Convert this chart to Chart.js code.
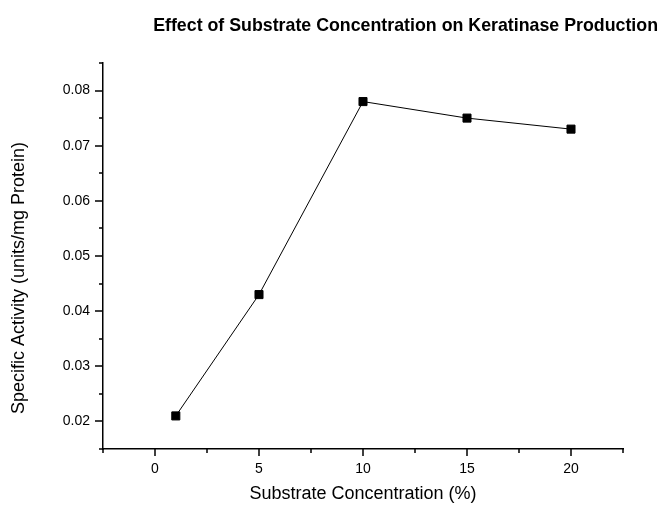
<!DOCTYPE html>
<html>
<head>
<meta charset="utf-8">
<script src="https://cdn.jsdelivr.net/npm/chart.js@4"></script>
<style>
  body { margin: 0; background: #fff; }
  #wrap { width: 667px; height: 506px; position: relative; }
</style>
</head>
<body>
<div id="wrap"><canvas id="grafica"></canvas></div>
<script>
// datos
const concentraciones = [1, 5, 10, 15, 20];
const actividad = [0.021, 0.043, 0.078, 0.075, 0.073];

// ticks mayores y menores (medio paso)
const xTicks = [0, 5, 10, 15, 20];
const yTicks = [0.02, 0.03, 0.04, 0.05, 0.06, 0.07, 0.08];
const xMenores = [-2.5, 2.5, 7.5, 12.5, 17.5, 22.5];
const yMenores = [0.015, 0.025, 0.035, 0.045, 0.055, 0.065, 0.075, 0.085];

const tituloY = 'Specific Activity (units/mg Protein)';

// plugin: marcas de ticks (mayores y menores) y titulo del eje Y
const extrasEjes = {
    id: 'extrasEjes',
    afterDraw(chart) {
        const ctx = chart.ctx;
        const sx = chart.scales.x;
        const sy = chart.scales.y;
        const area = chart.chartArea;
        const marcaX = (v, largo) => {
            const px = Math.round(sx.getPixelForValue(v));
            ctx.moveTo(px, area.bottom);
            ctx.lineTo(px, area.bottom + largo);
        };
        const marcaY = (v, largo) => {
            const py = Math.round(sy.getPixelForValue(v));
            ctx.moveTo(area.left, py);
            ctx.lineTo(area.left - largo, py);
        };
        ctx.save();
        ctx.lineWidth = 1.5;
        ctx.strokeStyle = '#000';
        ctx.beginPath();
        xTicks.forEach(v => marcaX(v, 7));
        xMenores.forEach(v => marcaX(v, 4));
        yTicks.forEach(v => marcaY(v, 8));
        yMenores.forEach(v => marcaY(v, 4));
        ctx.stroke();

        ctx.translate(19.5, 278);
        ctx.rotate(-Math.PI / 2);
        ctx.fillStyle = '#000';
        ctx.font = '18px Arial, "Liberation Sans", sans-serif';
        ctx.textAlign = 'center';
        ctx.textBaseline = 'middle';
        ctx.fillText(tituloY, 0, 0);
        ctx.restore();
    }
};

const fuente = 'Arial, "Liberation Sans", sans-serif';

new Chart(document.getElementById('grafica').getContext('2d'), {
    type: 'line',
    data: {
        datasets: [{
            data: concentraciones.map((c, i) => ({ x: c, y: actividad[i] })),
            borderColor: '#000',
            borderWidth: 1,
            backgroundColor: '#000',
            pointStyle: 'rect',
            pointRadius: 5.7,
            pointBorderWidth: 1,
            pointBackgroundColor: '#000',
            pointBorderColor: '#000',
            tension: 0
        }]
    },
    options: {
        responsive: true,
        maintainAspectRatio: false,
        animation: false,
        layout: { padding: { top: 15.7, left: 0, right: 9, bottom: 0 } },
        plugins: {
            legend: { display: false },
            tooltip: { enabled: false },
            title: {
                display: true,
                text: 'Effect of Substrate Concentration on Keratinase Production',
                align: 'end',
                color: '#000',
                font: { family: fuente, size: 17.8, weight: 'bold' },
                padding: { top: 0, bottom: 25.9 }
            }
        },
        scales: {
            x: {
                type: 'linear',
                min: -2.5,
                max: 22.5,
                afterBuildTicks: s => { s.ticks = xTicks.map(v => ({ value: v })); },
                ticks: {
                    color: '#000',
                    padding: 5,
                    font: { family: fuente, size: 14 }
                },
                grid: { display: false, drawOnChartArea: false, tickLength: 7 },
                border: { display: true, color: '#000', width: 1.5 },
                title: {
                    display: true,
                    text: 'Substrate Concentration (%)',
                    color: '#000',
                    font: { family: fuente, size: 18 },
                    padding: { top: 0, bottom: 1 }
                },
                afterFit: s => { s.height = 57; }
            },
            y: {
                min: 0.015,
                max: 0.085,
                afterBuildTicks: s => { s.ticks = yTicks.map(v => ({ value: v })); },
                ticks: {
                    color: '#000',
                    padding: 5,
                    font: { family: fuente, size: 14 },
                    callback: v => v.toFixed(2)
                },
                grid: { display: false, drawOnChartArea: false, tickLength: 8 },
                border: { display: true, color: '#000', width: 1.5 },
                afterFit: s => { s.width = 103; }
            },
            derecha: {
                type: 'linear',
                position: 'right',
                display: true,
                ticks: { display: false },
                grid: { display: false },
                border: { display: false },
                afterFit: s => { s.width = 35; }
            }
        }
    },
    plugins: [extrasEjes]
});
</script>
</body>
</html>
